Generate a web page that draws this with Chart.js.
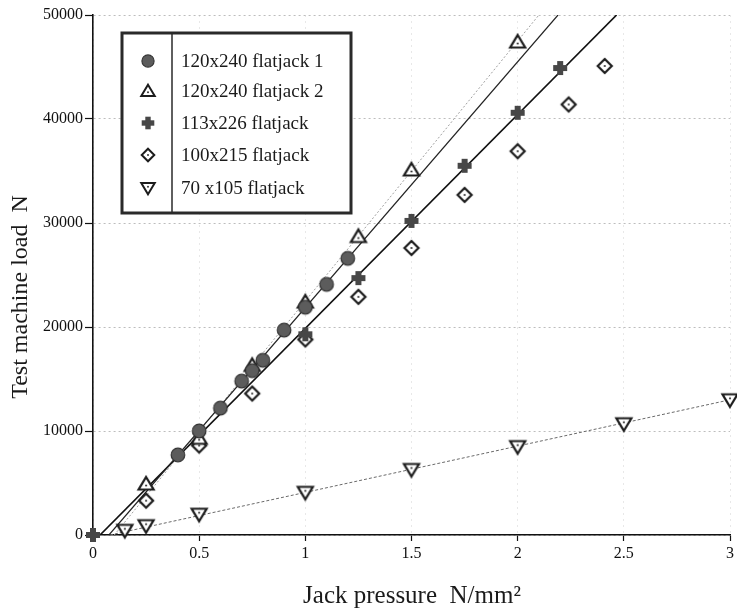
<!DOCTYPE html>
<html>
<head>
<meta charset="utf-8">
<script src="https://cdn.jsdelivr.net/npm/chart.js@4.4.0/dist/chart.umd.min.js"></script>
<style>
    html, body { margin: 0; padding: 0; background: #fff; }
</style>
</head>
<body>
<canvas id="loadChart" width="737" height="610"></canvas>
<script>
// 판독한 데이터 (Jack pressure N/mm2 vs Test machine load N)
const jack1X = [0.4, 0.5, 0.6, 0.7, 0.75, 0.8, 0.9, 1.0, 1.1, 1.2];
const jack1Y = [7700, 10000, 12200, 14800, 15800, 16800, 19700, 21900, 24100, 26600];

const jack2X = [0.25, 0.5, 0.75, 1.0, 1.25, 1.5, 2.0];
const jack2Y = [4900, 9300, 16300, 22400, 28700, 35100, 47400];

const jack113X = [0, 1.0, 1.25, 1.5, 1.75, 2.0, 2.2];
const jack113Y = [0, 19300, 24700, 30200, 35500, 40600, 44900];

const jack100X = [0.25, 0.5, 0.75, 1.0, 1.25, 1.5, 1.75, 2.0, 2.24, 2.41];
const jack100Y = [3300, 8600, 13600, 18800, 22900, 27600, 32700, 36900, 41400, 45100];

const jack70X = [0.15, 0.25, 0.5, 1.0, 1.5, 2.0, 2.5, 3.0];
const jack70Y = [450, 900, 2000, 4100, 6300, 8500, 10700, 13000];

// 회귀선 끝점
const fit1X = [0.075, 2.19];
const fit1Y = [0, 50000];
const fit2X = [0.10, 2.10];
const fit2Y = [0, 50000];
const fit113X = [0.033, 2.466];
const fit113Y = [0, 50000];
const fit70X = [0.08, 3.0];
const fit70Y = [0, 13000];

const seriesNames = [
    '120x240 flatjack 1',
    '120x240 flatjack 2',
    '113x226 flatjack',
    '100x215 flatjack',
    '70 x105 flatjack',
];

const xTicks = [0, 0.5, 1, 1.5, 2, 2.5, 3];
const yTicks = [0, 10000, 20000, 30000, 40000, 50000];

const SERIF = '"Liberation Serif", "Times New Roman", serif';

function toPoints(xs, ys) {
    return xs.map((x, i) => ({ x: x, y: ys[i] }));
}

/**
 * 마커 이미지 만들기
 */
function makeMarker(kind, k) {
    const c = document.createElement('canvas');
    c.width = 22;
    c.height = 22;
    const g = c.getContext('2d');
    g.translate(11, 11);
    g.scale(k, k);
    g.lineJoin = 'miter';

    if (kind === 'circle') {
        g.beginPath();
        g.arc(0, 0, 6.8, 0, Math.PI * 2);
        g.fillStyle = '#5c5c5c';
        g.fill();
        g.lineWidth = 1.2;
        g.strokeStyle = '#333';
        g.stroke();
        return c;
    }
    if (kind === 'cross') {
        g.fillStyle = '#474747';
        g.fillRect(-7, -3, 14, 6);
        g.fillRect(-3, -7, 6, 14);
        return c;
    }

    g.beginPath();
    if (kind === 'up') {
        g.moveTo(0, -7);
        g.lineTo(7.5, 5.5);
        g.lineTo(-7.5, 5.5);
    } else if (kind === 'down') {
        g.moveTo(0, 7);
        g.lineTo(7.5, -5.5);
        g.lineTo(-7.5, -5.5);
    } else {
        g.moveTo(0, -7);
        g.lineTo(7, 0);
        g.lineTo(0, 7);
        g.lineTo(-7, 0);
    }
    g.closePath();
    g.fillStyle = '#fff';
    g.fill();
    g.lineWidth = 2.2;
    g.strokeStyle = '#1c1c1c';
    g.stroke();

    // 가운데 점
    const dy = kind === 'up' ? 1.5 : kind === 'down' ? -1.5 : 0;
    g.beginPath();
    g.arc(0, dy, 1.1, 0, Math.PI * 2);
    g.fillStyle = '#333';
    g.fill();
    return c;
}

const markerKinds = ['circle', 'up', 'cross', 'diamond', 'down'];
const plotMarkers = markerKinds.map((m) => makeMarker(m, 1));
const legendMarkers = markerKinds.map((m) => makeMarker(m, 0.9));

function pointSet(label, xs, ys, idx) {
    return {
        label: label,
        data: toPoints(xs, ys),
        pointStyle: plotMarkers[idx],
        showLine: false,
        clip: false,
        order: 1,
    };
}

function fitSet(xs, ys, color, width, dash) {
    return {
        label: 'fit',
        data: toPoints(xs, ys),
        showLine: true,
        borderColor: color,
        borderWidth: width,
        borderDash: dash,
        pointRadius: 0,
        pointHoverRadius: 0,
        order: 5,
    };
}

/**
 * 범례 상자 + 축 제목
 */
const decorPlugin = {
    id: 'decor',
    afterDraw(chart) {
        const ctx = chart.ctx;
        ctx.save();

        // 범례 상자
        const bx = 122, by = 33, bw = 229, bh = 180;
        ctx.fillStyle = '#fff';
        ctx.fillRect(bx, by, bw, bh);
        ctx.lineWidth = 3;
        ctx.strokeStyle = '#2a2a2a';
        ctx.strokeRect(bx, by, bw, bh);
        ctx.lineWidth = 1.5;
        ctx.beginPath();
        ctx.moveTo(172, by);
        ctx.lineTo(172, by + bh);
        ctx.stroke();

        const rows = [61, 91, 123, 155, 188];
        ctx.font = '19px ' + SERIF;
        ctx.fillStyle = '#1a1a1a';
        ctx.textBaseline = 'middle';
        ctx.textAlign = 'left';
        seriesNames.forEach((name, i) => {
            const m = legendMarkers[i];
            ctx.drawImage(m, 148 - m.width / 2, rows[i] - m.height / 2);
            ctx.fillText(name, 181, rows[i] + 1);
        });

        // 축 제목
        ctx.fillStyle = '#1a1a1a';
        ctx.textAlign = 'center';
        ctx.font = '25px ' + SERIF;
        ctx.fillText('Jack pressure  N/mm\u00b2', 412, 596);

        ctx.translate(21, 297);
        ctx.rotate(-Math.PI / 2);
        ctx.font = '24px ' + SERIF;
        ctx.fillText('Test machine load  N', 0, 0);

        ctx.restore();
    },
};

function initLoadChart() {
    const ctx = document.getElementById('loadChart');

    new Chart(ctx, {
        type: 'scatter',
        data: {
            datasets: [
                pointSet(seriesNames[0], jack1X, jack1Y, 0),
                pointSet(seriesNames[1], jack2X, jack2Y, 1),
                pointSet(seriesNames[2], jack113X, jack113Y, 2),
                pointSet(seriesNames[3], jack100X, jack100Y, 3),
                pointSet(seriesNames[4], jack70X, jack70Y, 4),
                fitSet(fit1X, fit1Y, '#222', 1.2, []),
                fitSet(fit2X, fit2Y, '#a0a0a0', 1, [2, 2]),
                fitSet(fit113X, fit113Y, '#111', 1.7, []),
                fitSet(fit70X, fit70Y, '#6a6a6a', 1, [3, 2]),
            ],
        },
        options: {
            responsive: false,
            animation: false,
            devicePixelRatio: 1,
            layout: {
                padding: { top: 15, right: 2, left: 0, bottom: 0 },
            },
            plugins: {
                legend: { display: false },
                tooltip: { enabled: false },
            },
            scales: {
                x: {
                    type: 'linear',
                    min: 0,
                    max: 3,
                    afterBuildTicks: (s) => {
                        s.ticks = xTicks.map((v) => ({ value: v }));
                    },
                    afterFit: (s) => {
                        s.height = 75;
                    },
                    ticks: {
                        color: '#111',
                        padding: 3,
                        font: { family: SERIF, size: 16 },
                        callback: (v) => String(v),
                    },
                    grid: {
                        color: 'rgba(0,0,0,0.09)',
                        tickColor: '#111',
                        tickLength: 6,
                        tickWidth: 1.2,
                    },
                    border: { color: '#111', width: 1.6, dash: [2, 4] },
                },
                y: {
                    type: 'linear',
                    min: 0,
                    max: 50000,
                    afterBuildTicks: (s) => {
                        s.ticks = yTicks.map((v) => ({ value: v }));
                    },
                    afterFit: (s) => {
                        s.width = 93;
                    },
                    ticks: {
                        color: '#111',
                        padding: 2,
                        font: { family: SERIF, size: 16 },
                        callback: (v) => String(v),
                    },
                    grid: {
                        color: '#bdbdbd',
                        tickColor: '#111',
                        tickLength: 8,
                        tickWidth: 1.2,
                    },
                    border: { color: '#111', width: 1.6, dash: [2, 3] },
                },
            },
        },
        plugins: [decorPlugin],
    });
}

document.addEventListener('DOMContentLoaded', () => {
    initLoadChart();
});
</script>
</body>
</html>
